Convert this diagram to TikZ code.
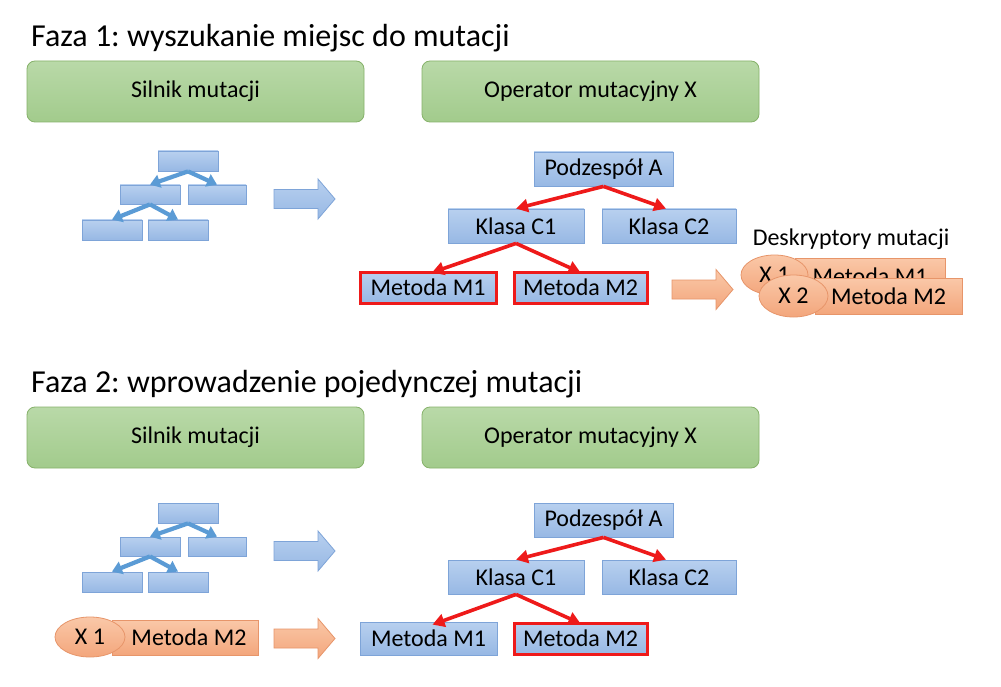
\documentclass[tikz,border=0pt]{standalone}
\usepackage{fontspec}
\setmainfont{Carlito}
\frenchspacing
\usetikzlibrary{shapes.geometric,arrows.meta}
\definecolor{gT}{HTML}{B9D9A8}
\definecolor{gB}{HTML}{A2CB8C}
\definecolor{gD}{HTML}{86B26A}
\definecolor{bT}{HTML}{B8D0EF}
\definecolor{bB}{HTML}{97B8E4}
\definecolor{bD}{HTML}{7EA4D8}
\definecolor{oT}{HTML}{FAC8A8}
\definecolor{oB}{HTML}{F3A67C}
\definecolor{oD}{HTML}{E7956A}
\definecolor{rD}{HTML}{EE1A1A}
\definecolor{iA}{HTML}{5B9BD5}
\newcommand{\blockarr}[3]{\path[#3] (#1,#2) ++(0,-9.5) -- ++(44,0) -- ++(0,-10.5) -- ++(17,20) -- ++(-17,20) -- ++(0,-10.5) -- ++(-44,0) -- cycle;}
\begin{document}
\begin{tikzpicture}[x=1pt,y=-1pt,
  txt/.style={font=\fontsize{24}{28}\selectfont},
  titletxt/.style={font=\fontsize{32}{38}\selectfont, inner sep=0, anchor=base west},
  greenbox/.style={draw=gD, top color=gT, bottom color=gB, rounded corners=8pt, line width=0.8pt, txt, inner sep=0, minimum width=337pt, minimum height=61pt},
  bluebox/.style={draw=bD, top color=bT, bottom color=bB, line width=0.8pt, txt, inner sep=0},
  redbox/.style={bluebox, draw=rD, line width=3pt},
  iconbox/.style={draw=bD, top color=bT, bottom color=bB, line width=0.8pt, inner sep=0, minimum height=20pt},
  orangebox/.style={draw=oD, top color=oT, bottom color=oB, line width=0.8pt, txt, inner sep=0},
  orangeell/.style={ellipse, draw=oD, top color=oT, bottom color=oB, line width=0.8pt, txt, inner sep=0},
  redarr/.style={draw=rD, line width=3.6pt, -{Triangle[length=12pt,width=13pt]}},
  iconarr/.style={draw=iA, line width=4.2pt, -{Triangle[length=10pt,width=13pt]}},
  bluearrow/.style={draw=bD, top color=bT, bottom color=bB, line width=0.8pt},
  orangearrow/.style={draw=oD, top color=oT, bottom color=oB, line width=0.8pt}]
\useasboundingbox[fill=white] (0,0) rectangle (1001,687);

% ---------------- Phase 1 ----------------
\node[titletxt] (t1) at (31,47) {Faza 1: wyszukanie miejsc do mutacji};
\node[greenbox] (s1) at (195.5,91.5) {Silnik mutacji};
\node[greenbox] (o1) at (590.5,91.5) {Operator mutacyjny X};

% icon tree
\node[iconbox, minimum width=60pt] (it1) at (188,161) {};
\node[iconbox, minimum width=60pt, minimum height=19pt] (il1) at (150,194.5) {};
\node[iconbox, minimum width=58pt, minimum height=19pt] (ir1) at (217,194.5) {};
\node[iconbox, minimum width=60pt] (ibl1) at (112,230) {};
\node[iconbox, minimum width=60pt] (ibr1) at (178,230) {};
\draw[iconarr] (it1.south) -- (il1.north);
\draw[iconarr] (it1.south) -- (ir1.north);
\draw[iconarr] (il1.south) -- (ibl1.north);
\draw[iconarr] (il1.south) -- (ibr1.north);

\blockarr{274}{199}{bluearrow}

% right tree
\node[bluebox, minimum width=139pt, minimum height=34pt] (pa1) at (603.5,169) {Podzespół A};
\node[bluebox, minimum width=136pt, minimum height=34pt] (kc11) at (516,226) {Klasa C1};
\node[bluebox, minimum width=134pt, minimum height=34pt] (kc21) at (669,226) {Klasa C2};
\node[redbox, minimum width=136pt, minimum height=31pt] (mm11) at (428,287.5) {Metoda M1};
\node[redbox, minimum width=133pt, minimum height=31pt] (mm21) at (580.5,287.5) {Metoda M2};
\draw[redarr] (pa1.south) -- (kc11.north);
\draw[redarr] (pa1.south) -- ([xshift=-3pt]kc21.north);
\draw[redarr] (kc11.south) -- ([xshift=4pt,yshift=-2pt]mm11.north);
\draw[redarr] (kc11.south) -- ([yshift=-2pt]mm21.north);

\blockarr{672}{289.5}{orangearrow}

% descriptors
\node[txt, anchor=base, inner sep=0] (dm) at (851,245) {Deskryptory mutacji};
\node[orangebox, minimum width=150pt, minimum height=37pt] (dr1) at (870,276.5) {Metoda M1};
\node[orangeell, minimum width=67pt, minimum height=40pt] (de1) at (774.5,275) {X 1};
\node[orangebox, minimum width=147pt, minimum height=36pt] (dr2) at (888.5,296) {Metoda M2};
\node[orangeell, minimum width=69pt, minimum height=42pt] (de2) at (793.5,296) {X 2};

% ---------------- Phase 2 ----------------
\node[titletxt] (t2) at (31,392) {Faza 2: wprowadzenie pojedynczej mutacji};
\node[greenbox] (s2) at (195.5,437.5) {Silnik mutacji};
\node[greenbox] (o2) at (590.5,437.5) {Operator mutacyjny X};

\node[iconbox, minimum width=60pt] (it2) at (188,513) {};
\node[iconbox, minimum width=60pt, minimum height=19pt] (il2) at (150,546.5) {};
\node[iconbox, minimum width=58pt, minimum height=19pt] (ir2) at (217,546.5) {};
\node[iconbox, minimum width=60pt] (ibl2) at (112,582) {};
\node[iconbox, minimum width=60pt] (ibr2) at (178,582) {};
\draw[iconarr] (it2.south) -- (il2.north);
\draw[iconarr] (it2.south) -- (ir2.north);
\draw[iconarr] (il2.south) -- (ibl2.north);
\draw[iconarr] (il2.south) -- (ibr2.north);

\blockarr{274}{551}{bluearrow}

\node[orangebox, minimum width=146pt, minimum height=35pt] (pr2) at (185,637.5) {\hspace*{8pt}Metoda M2};
\node[orangeell, minimum width=70pt, minimum height=40pt] (pe2) at (90,637) {X 1};

\blockarr{274}{638.5}{orangearrow}

\node[bluebox, minimum width=139pt, minimum height=34pt] (pa2) at (603.5,520) {Podzespół A};
\node[bluebox, minimum width=136pt, minimum height=34pt] (kc12) at (516,577) {Klasa C1};
\node[bluebox, minimum width=134pt, minimum height=34pt] (kc22) at (669,577) {Klasa C2};
\node[bluebox, minimum width=137pt, minimum height=33pt] (mm12) at (428.5,638.5) {Metoda M1};
\node[redbox, minimum width=133pt, minimum height=31pt] (mm22) at (580.5,638.5) {Metoda M2};
\draw[redarr] (pa2.south) -- (kc12.north);
\draw[redarr] (pa2.south) -- ([xshift=-3pt]kc22.north);
\draw[redarr] (kc12.south) -- ([xshift=4pt,yshift=-3pt]mm12.north);
\draw[redarr] (kc12.south) -- ([yshift=-2pt]mm22.north);
\end{tikzpicture}
\end{document}
